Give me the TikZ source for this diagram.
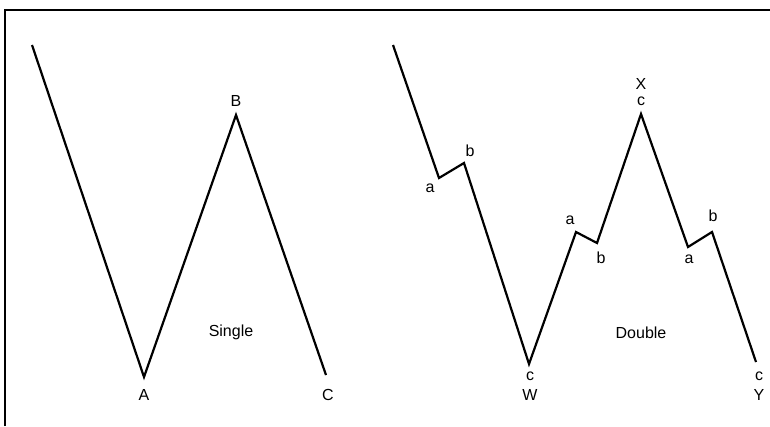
\documentclass[tikz,border=0pt]{standalone}
\usepackage{fontspec}
\setmainfont{Liberation Sans}
\begin{document}
\begin{tikzpicture}[x=1pt,y=-1pt,
  wave/.style={line width=2.2pt,line join=miter},
  frame/.style={line width=1.8pt},
  lbl/.style={inner sep=0pt,font=\fontsize{16}{16}\selectfont},
  big/.style={inner sep=0pt,font=\fontsize{16}{16}\selectfont}]
\useasboundingbox (0,0) rectangle (770,426);
% frame
\coordinate (f1) at (5,426);
\coordinate (f2) at (5,10);
\coordinate (f3) at (770,10);
\draw[frame] (f1) -- (f2) -- (f3);
% single
\coordinate (s0) at (32,45);
\coordinate (sA) at (144,377);
\coordinate (sB) at (236,115);
\coordinate (sC) at (326,375);
\draw[wave] (s0) -- (sA) -- (sB) -- (sC);
\node[big] (lA) at (144,395) {A};
\node[big] (lB) at (236,101) {B};
\node[big] (lC) at (328,395) {C};
\node[lbl] (single) at (231,332) {Single};
% double
\coordinate (d0) at (393,45);
\coordinate (d1) at (439,178);
\coordinate (d2) at (464,163);
\coordinate (dW) at (529,364);
\coordinate (d3) at (576,232);
\coordinate (d4) at (597,243);
\coordinate (dX) at (641,114);
\coordinate (d5) at (688,247);
\coordinate (d6) at (712,232);
\coordinate (dY) at (756,362);
\draw[wave] (d0) -- (d1) -- (d2) -- (dW) -- (d3) -- (d4) -- (dX) -- (d5) -- (d6) -- (dY);
\node[lbl] (a1) at (430,188) {a};
\node[lbl] (b1) at (470,151) {b};
\node[lbl] (a2) at (570,220) {a};
\node[lbl] (b2) at (601,258) {b};
\node[lbl] (cX) at (641,101) {c};
\node[big] (lX) at (641,84) {X};
\node[lbl] (a3) at (689,259) {a};
\node[lbl] (b3) at (713,216) {b};
\node[lbl] (cW) at (530,376) {c};
\node[big] (lW) at (530,395) {W};
\node[lbl] (cY) at (759,376) {c};
\node[big] (lY) at (759,395) {Y};
\node[lbl] (double) at (641,333) {Double};
\end{tikzpicture}
\end{document}
